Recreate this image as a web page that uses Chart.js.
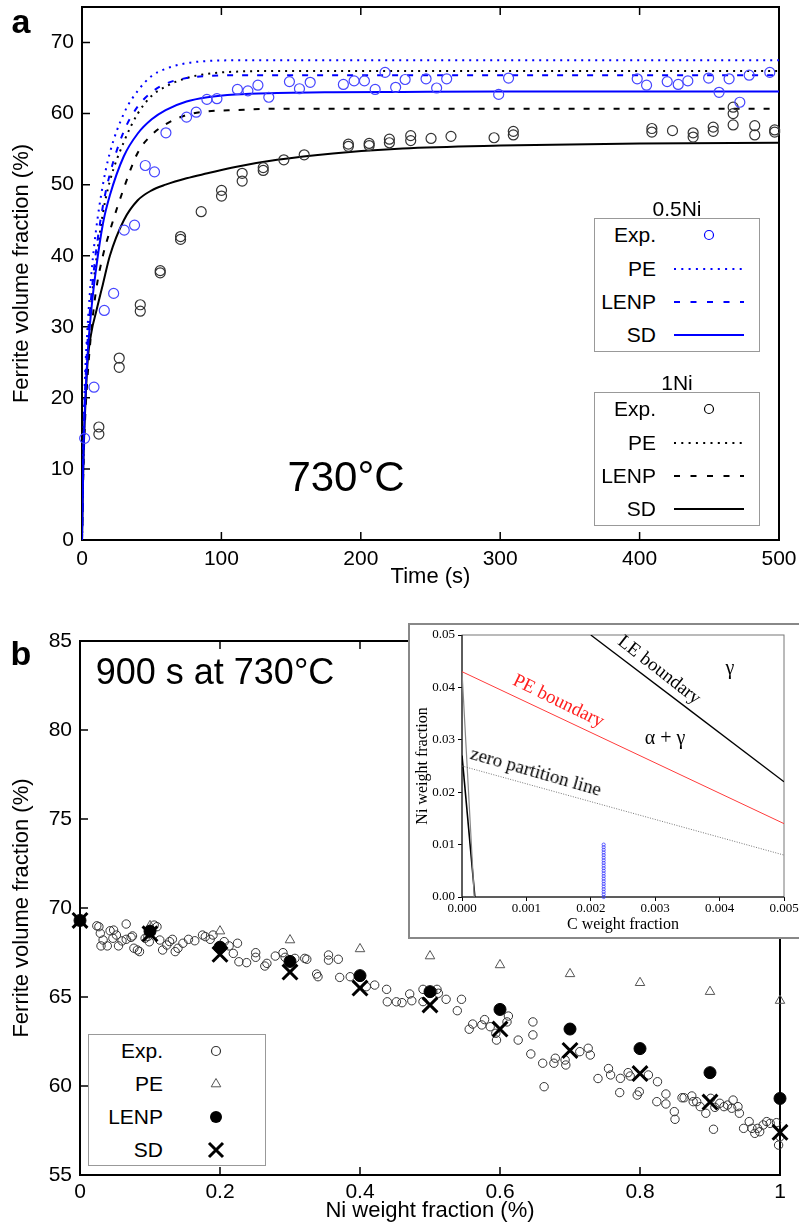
<!DOCTYPE html>
<html>
<head>
<meta charset="utf-8">
<script src="https://cdn.jsdelivr.net/npm/chart.js@4.4.0/dist/chart.umd.min.js"></script>
<style>
  html, body { margin: 0; padding: 0; background: #fff; }
  body { width: 799px; height: 1226px; position: relative; overflow: hidden;
         font-family: "Liberation Sans", Arial, sans-serif; color: #000; }
  canvas { position: absolute; }
  .txt { position: absolute; white-space: nowrap; line-height: 1; transform: translate(-50%, -50%); z-index: 5; }
  .serif { font-family: "Liberation Serif", "Times New Roman", serif; }
  .legend { position: absolute; border: 1px solid #999; background: #fff; box-sizing: border-box; z-index: 4; }
  .legend .lab { position: absolute; font-size: 21px; line-height: 24px; height: 24px; margin-top: -12px; text-align: right; white-space: nowrap; }
  #inset { position: absolute; left: 408px; top: 623px; width: 400px; height: 316px;
           border: 2px solid #888; box-sizing: border-box; background: #fff; z-index: 3; }
</style>
</head>
<body>
<canvas id="kinetics" width="799" height="600" style="left:0;top:0"></canvas>
<canvas id="nickel" width="799" height="626" style="left:0;top:600px"></canvas>
<div id="inset"><canvas id="phase" width="389" height="312" style="left:0;top:0"></canvas></div>

<div class="txt" style="left:21px;top:21px;font-size:34px;font-weight:bold">a</div>
<div class="txt" style="left:21px;top:653px;font-size:34px;font-weight:bold">b</div>
<div class="txt" style="left:346px;top:477px;font-size:42px">730°C</div>
<div class="txt" style="left:215px;top:672px;font-size:36px">900 s at 730°C</div>
<div class="txt" style="left:677px;top:208px;font-size:21px">0.5Ni</div>
<div class="txt" style="left:677px;top:382px;font-size:21px">1Ni</div>

<div class="txt serif" style="left:660px;top:669px;font-size:19px;transform:translate(-50%,-50%) rotate(38deg)">LE boundary</div>
<div class="txt serif" style="left:730px;top:667px;font-size:20px">γ</div>
<div class="txt serif" style="left:559px;top:700px;font-size:19px;color:#ff2020;transform:translate(-50%,-50%) rotate(26deg)">PE boundary</div>
<div class="txt serif" style="left:665px;top:737px;font-size:20px">α + γ</div>
<div class="txt serif" style="left:536px;top:771px;font-size:19px;transform:translate(-50%,-50%) rotate(16deg)">zero partition line</div>

<script>
// ---- panel a : ferrite fraction vs time at 730 C ----
const timeGrid = [0, 1, 2, 4, 7, 10, 15, 20, 30, 40, 50, 60, 75, 90, 110, 140, 180, 230, 300, 400, 500];
const pe05   = [0, 14, 22, 30, 38, 43.5, 50, 54.5, 60, 63.2, 65.3, 66.3, 67.1, 67.4, 67.5, 67.5, 67.5, 67.5, 67.5, 67.5, 67.5];
const lenp05 = [0, 13, 20, 28, 35, 40.5, 47, 51.5, 57.5, 61, 63, 64.2, 65, 65.3, 65.4, 65.4, 65.4, 65.4, 65.4, 65.4, 65.4];
const sd05   = [0, 12, 18, 26, 33, 38, 44.5, 48.5, 54, 57.2, 59.2, 60.5, 61.7, 62.3, 62.7, 62.9, 63.0, 63.05, 63.1, 63.1, 63.1];
const pe1    = [0, 12, 19, 27, 34, 39, 46, 50.5, 56, 60, 62.5, 63.8, 65, 65.6, 65.9, 66, 66, 66, 66, 66, 66];
const lenp1  = [0, 10, 16, 23, 30, 35, 40, 43.5, 49.5, 54.5, 57, 58.5, 59.8, 60.3, 60.5, 60.7, 60.7, 60.7, 60.7, 60.7, 60.7];
const sd1    = [0, 11, 17, 25, 29.5, 32, 36, 40, 45, 47.8, 49.2, 50, 50.9, 51.6, 52.5, 53.5, 54.4, 55.1, 55.5, 55.8, 55.9];

const exp05Time = [1.9, 8.6, 16, 22.7, 30.3, 37.7, 45.4, 52, 60.2, 75, 81.9, 89.6, 96.8, 111.5, 119, 126.2, 134, 148.8, 156, 163.7,
                   187.5, 195.2, 202.6, 210.3, 217.4, 225, 231.8, 246.8, 254.4, 261.6, 298.9, 306, 398.3, 405, 419.8, 427.7,
                   434.6, 449.5, 457, 464.2, 471.9, 478.6, 493.4];
const exp05Frac = [14.3, 21.5, 32.3, 34.7, 43.6, 44.3, 52.7, 51.8, 57.3, 59.5, 60.2, 62.0, 62.1, 63.4, 63.2, 64.0, 62.3, 64.5, 63.5, 64.4,
                   64.1, 64.6, 64.6, 63.4, 65.8, 63.7, 64.8, 64.9, 63.6, 64.9, 62.7, 65.0, 64.9, 64.0, 64.5, 64.1,
                   64.6, 65.0, 63.0, 64.9, 61.6, 65.4, 65.8];
const exp1Time = [12.1, 12.1, 26.7, 26.7, 41.8, 41.8, 56.1, 56.1, 70.7, 70.7, 85.5, 100.1, 100.1, 114.9, 114.9, 130, 130, 144.8, 159.4,
                  191.1, 191.1, 206, 206, 220.5, 220.5, 235.8, 235.8, 250.4, 264.7, 295.6, 309.4, 309.4, 408.8, 408.8, 423.6,
                  438.4, 438.4, 452.8, 452.8, 467.1, 467.1, 467.1, 482.6, 482.6, 496.9, 496.9];
const exp1Frac = [15.9, 14.9, 25.6, 24.3, 33.1, 32.2, 37.9, 37.6, 42.7, 42.3, 46.2, 49.2, 48.4, 51.6, 50.5, 52.4, 52.0, 53.5, 54.2,
                  55.7, 55.4, 55.8, 55.5, 56.4, 55.9, 56.9, 56.2, 56.5, 56.8, 56.6, 57.5, 57.0, 57.9, 57.4, 57.6,
                  57.3, 56.7, 58.1, 57.5, 60.9, 60.0, 58.4, 58.3, 57.0, 57.7, 57.4];

// ---- panel b : ferrite fraction vs Ni after 900 s ----
const niModel  = [0, 0.1, 0.2, 0.3, 0.4, 0.5, 0.6, 0.7, 0.8, 0.9, 1.0];
const peVals   = [69.3, 69.0, 68.7, 68.2, 67.7, 67.3, 66.8, 66.3, 65.8, 65.3, 64.8];
const lenpVals = [69.3, 68.7, 67.8, 67.0, 66.2, 65.3, 64.3, 63.2, 62.1, 60.75, 59.3];
const sdVals   = [69.3, 68.55, 67.4, 66.4, 65.5, 64.55, 63.2, 62.0, 60.7, 59.1, 57.4];

const niExp = [0.024, 0.027, 0.029, 0.030, 0.033, 0.039, 0.043, 0.047, 0.048, 0.052, 0.055, 0.060, 0.066, 0.066, 0.073, 0.075,
  0.077, 0.082, 0.085, 0.093, 0.097, 0.099, 0.106, 0.110, 0.114, 0.118, 0.124, 0.128, 0.132, 0.136, 0.140, 0.147, 0.155,
  0.164, 0.175, 0.179, 0.186, 0.190, 0.206, 0.213, 0.219, 0.225, 0.227, 0.238, 0.251, 0.251, 0.264, 0.267, 0.279, 0.290,
  0.293, 0.307, 0.321, 0.324, 0.338, 0.340, 0.355, 0.355, 0.369, 0.371, 0.386, 0.409, 0.421, 0.438, 0.439, 0.452, 0.46,
  0.471, 0.474, 0.49, 0.49, 0.504, 0.51, 0.512, 0.523, 0.539, 0.545, 0.556, 0.561, 0.574, 0.578, 0.586, 0.594, 0.595,
  0.61, 0.612, 0.626, 0.644, 0.647, 0.647, 0.661, 0.663, 0.677, 0.679, 0.693, 0.694, 0.714, 0.726, 0.729, 0.74, 0.755,
  0.758, 0.771, 0.772, 0.783, 0.786, 0.796, 0.799, 0.812, 0.824, 0.825, 0.837, 0.837, 0.849, 0.85, 0.86, 0.863, 0.874,
  0.876, 0.881, 0.886, 0.894, 0.901, 0.905, 0.907, 0.914, 0.92, 0.925, 0.931, 0.933, 0.94, 0.942, 0.948, 0.956, 0.96,
  0.964, 0.968, 0.971, 0.976, 0.981, 0.986, 0.995, 0.998, 1.0];
const vfExp = [69.0, 68.95, 68.58, 67.87, 68.2, 67.87, 68.72, 68.3, 68.76, 68.48, 67.87, 68.15, 69.1, 68.24, 68.35, 68.43,
  67.74, 67.64, 67.55, 68.3, 68.4, 68.1, 69.04, 68.95, 68.2, 67.64, 67.92, 68.11, 68.24, 67.55, 67.74, 68.02, 68.24,
  68.16, 68.48, 68.39, 68.24, 68.48, 68.11, 67.87, 67.45, 68.02, 66.98, 66.93, 67.49, 67.23, 66.74, 66.89, 67.3, 67.49,
  67.23, 67.17, 67.17, 67.12, 66.29, 66.14, 67.36, 67.07, 67.12, 66.1, 66.14, 65.58, 65.67, 65.43, 64.73, 64.73, 64.68,
  65.17, 64.79, 65.43, 64.74, 65.3, 65.43, 65.21, 64.87, 64.23, 64.87, 63.19, 63.48, 63.43, 63.73, 63.33, 62.96, 62.58,
  63.6, 63.93, 62.58, 61.8, 63.6, 62.87, 61.28, 59.96, 61.28, 61.56, 61.46, 61.18, 61.93, 62.12, 61.74, 60.42, 60.98,
  60.62, 59.63, 60.43, 60.75, 60.56, 59.49, 59.68, 60.62, 59.12, 60.24, 59.55, 58.99, 58.56, 58.13, 59.34, 59.34, 59.44,
  59.12, 59.12, 58.84, 58.47, 59.31, 57.57, 58.8, 59.03, 58.84, 58.93, 58.75, 59.21, 58.84, 58.47, 57.62, 58.0, 57.62,
  57.34, 57.62, 57.43, 57.81, 58.0, 57.9, 57.94, 56.68, 57.15];

// ---- inset : Fe-C-Ni section ----
const leC = [0.002, 0.005],  leNi = [0.05, 0.022];
const peC = [0, 0.005],      peNi = [0.043, 0.014];
const zpC = [0, 0.005],      zpNi = [0.025, 0.008];
const alphaGrayC = [0, 0.00019], alphaGrayNi = [0.043, 0];
const alphaBlackC = [0, 0.0002], alphaBlackNi = [0.027, 0];
const alloyC  = [0.0022, 0.0022, 0.0022, 0.0022, 0.0022, 0.0022, 0.0022, 0.0022, 0.0022, 0.0022, 0.0022,
                 0.0022, 0.0022, 0.0022, 0.0022, 0.0022, 0.0022, 0.0022, 0.0022, 0.0022, 0.0022];
const alloyNi = [0, 0.0005, 0.001, 0.0015, 0.002, 0.0025, 0.003, 0.0035, 0.004, 0.0045, 0.005,
                 0.0055, 0.006, 0.0065, 0.007, 0.0075, 0.008, 0.0085, 0.009, 0.0095, 0.01];

const legendLabels = ['Exp.', 'PE', 'LENP', 'SD'];

Chart.defaults.font.family = '"Liberation Sans", Arial, sans-serif';
Chart.defaults.color = '#000';
Chart.defaults.animation = false;
Chart.defaults.plugins.legend.display = false;
Chart.defaults.plugins.tooltip.enabled = false;

function pts(xs, ys) {
  return xs.map((x, i) => ({ x: x, y: ys[i] }));
}

function curve(xs, ys, color, dash, width) {
  return {
    data: pts(xs, ys), showLine: true, borderColor: color, borderWidth: width || 2,
    borderDash: dash || [], pointRadius: 0, cubicInterpolationMode: 'monotone', fill: false
  };
}

function marks(xs, ys, style, color, radius, width, filled) {
  return {
    data: pts(xs, ys), showLine: false, pointStyle: style, pointRadius: radius,
    pointBorderColor: color, pointBackgroundColor: filled ? color : 'rgba(0,0,0,0)',
    pointBorderWidth: width, clip: false
  };
}

// frame round the plot area with inward ticks
const boxFrame = {
  id: 'boxFrame',
  beforeDatasetsDraw(chart, args, opts) {
    const { ctx, chartArea: a } = chart;
    const xs = chart.scales.x, ys = chart.scales.y;
    ctx.save();
    ctx.strokeStyle = opts.color;
    ctx.lineWidth = opts.width;
    ctx.strokeRect(a.left, a.top, a.right - a.left, a.bottom - a.top);
    if (opts.axisColor) {
      ctx.strokeStyle = opts.axisColor;
      ctx.beginPath();
      ctx.moveTo(a.left, a.top);
      ctx.lineTo(a.left, a.bottom);
      ctx.lineTo(a.right, a.bottom);
      ctx.stroke();
    }
    if (opts.tick) {
      ctx.strokeStyle = opts.color;
      ctx.lineWidth = 1.5;
      ctx.beginPath();
      xs.ticks.forEach(t => {
        const p = xs.getPixelForValue(t.value);
        ctx.moveTo(p, a.bottom); ctx.lineTo(p, a.bottom - opts.tick);
        ctx.moveTo(p, a.top); ctx.lineTo(p, a.top + opts.tick);
      });
      ys.ticks.forEach(t => {
        const p = ys.getPixelForValue(t.value);
        ctx.moveTo(a.left, p); ctx.lineTo(a.left + opts.tick, p);
      });
      ctx.stroke();
    }
    ctx.restore();
  }
};

function xAxis(min, max, step, title, height, tickPad, titlePad) {
  return {
    type: 'linear', min: min, max: max,
    ticks: { stepSize: step, padding: tickPad, font: { size: 21 }, callback: v => String(Math.round(v * 10) / 10) },
    grid: { display: false, drawTicks: false }, border: { display: false },
    title: { display: true, text: title, font: { size: 22 }, padding: { top: 0, bottom: titlePad } },
    afterFit(s) { s.height = height; s.paddingLeft = 0; s.paddingRight = 0; }
  };
}

function yAxis(min, max, step, title, width, tickPad) {
  return {
    type: 'linear', min: min, max: max,
    ticks: { stepSize: step, padding: tickPad, font: { size: 21 }, includeBounds: false },
    grid: { display: false, drawTicks: false }, border: { display: false },
    title: { display: true, text: title, font: { size: 22 }, padding: { top: 9, bottom: 0 } },
    afterFit(s) { s.width = width; s.paddingTop = 0; s.paddingBottom = 0; }
  };
}

new Chart(document.getElementById('kinetics'), {
  type: 'scatter',
  data: {
    datasets: [
      marks(exp05Time, exp05Frac, 'circle', '#4646ff', 5, 1.2),
      marks(exp1Time, exp1Frac, 'circle', '#333333', 5, 1.2),
      curve(timeGrid, sd05, '#0000ff'),
      curve(timeGrid, lenp05, '#0000ff', [6, 9]),
      curve(timeGrid, pe05, '#0000ff', [2, 5]),
      curve(timeGrid, sd1, '#000000'),
      curve(timeGrid, lenp1, '#000000', [6, 9]),
      curve(timeGrid, pe1, '#000000', [2, 5])
    ]
  },
  options: {
    responsive: false,
    layout: { padding: { top: 7, right: 20, left: 0, bottom: 0 } },
    scales: {
      x: xAxis(0, 500, 100, 'Time (s)', 60, 7, 10),
      y: yAxis(0, 75, 10, 'Ferrite volume fraction (%)', 82, 8)
    },
    plugins: { boxFrame: { color: '#000', width: 2, tick: 8 } }
  },
  plugins: [boxFrame]
});

new Chart(document.getElementById('nickel'), {
  type: 'scatter',
  data: {
    datasets: [
      marks(niModel, sdVals, 'crossRot', '#000', 10.5, 3),
      marks(niModel, lenpVals, 'circle', '#000', 6, 1, true),
      marks(niModel, peVals, 'triangle', '#555', 5.5, 1),
      marks(niExp, vfExp, 'circle', '#333', 4.2, 1)
    ]
  },
  options: {
    responsive: false,
    layout: { padding: { top: 41, right: 19, left: 0, bottom: 0 } },
    scales: {
      x: xAxis(0, 1, 0.2, 'Ni weight fraction (%)', 51, 5, 2),
      y: yAxis(55, 85, 5, 'Ferrite volume fraction (%)', 80, 8)
    },
    plugins: { boxFrame: { color: '#000', width: 2, tick: 8 } }
  },
  plugins: [boxFrame]
});

const serif = '"Liberation Serif", "Times New Roman", serif';
const insetGrid = { display: true, drawOnChartArea: false, drawTicks: true, tickLength: 4, color: '#000', lineWidth: 1 };

new Chart(document.getElementById('phase'), {
  type: 'scatter',
  data: {
    datasets: [
      marks(alloyC, alloyNi, 'circle', '#3a3aff', 1.6, 0.8),
      curve(leC, leNi, '#000', [], 1.3),
      curve(peC, peNi, '#ff3b3b', [], 1),
      curve(zpC, zpNi, '#666', [1, 1.5], 0.9),
      curve(alphaGrayC, alphaGrayNi, '#888', [], 1.2),
      curve(alphaBlackC, alphaBlackNi, '#000', [], 1.6)
    ]
  },
  options: {
    responsive: false,
    layout: { padding: { top: 10, right: 15, left: 0, bottom: 0 } },
    scales: {
      x: {
        type: 'linear', min: 0, max: 0.005,
        ticks: { stepSize: 0.001, padding: 0, font: { size: 13, family: serif }, callback: v => v.toFixed(3) },
        grid: insetGrid, border: { display: false },
        title: { display: true, text: 'C weight fraction', font: { size: 16, family: serif }, padding: { top: 0, bottom: 3 } },
        afterFit(s) { s.height = 40; s.paddingLeft = 0; s.paddingRight = 0; }
      },
      y: {
        type: 'linear', min: 0, max: 0.05,
        ticks: { stepSize: 0.01, padding: 3, font: { size: 13, family: serif }, callback: v => v.toFixed(2) },
        grid: insetGrid, border: { display: false },
        title: { display: true, text: 'Ni weight fraction', font: { size: 16, family: serif }, padding: { top: 3, bottom: 0 } },
        afterFit(s) { s.width = 52; s.paddingTop = 0; s.paddingBottom = 0; }
      }
    },
    plugins: { boxFrame: { color: '#777', axisColor: '#000', width: 1, tick: 0 } }
  },
  plugins: [boxFrame]
});

// legends drawn as html boxes
function addLegend(cfg) {
  const box = document.createElement('div');
  box.className = 'legend';
  box.style.cssText = 'left:' + cfg.left + 'px;top:' + cfg.top + 'px;width:' + cfg.width + 'px;height:' + cfg.height + 'px';
  let svg = '<svg width="' + cfg.width + '" height="' + cfg.height + '" style="position:absolute;left:0;top:0">';
  cfg.kinds.forEach((k, i) => {
    const y = cfg.rowY[i], cx = cfg.markX, c = cfg.color, x0 = cfg.lineX[0], x1 = cfg.lineX[1];
    if (k === 'circle') svg += '<circle cx="' + cx + '" cy="' + y + '" r="4.5" fill="none" stroke="' + c + '" stroke-width="1.2"/>';
    if (k === 'dot') svg += '<line x1="' + x0 + '" y1="' + y + '" x2="' + x1 + '" y2="' + y + '" stroke="' + c + '" stroke-width="2" stroke-dasharray="2 5.3"/>';
    if (k === 'dash') svg += '<line x1="' + x0 + '" y1="' + y + '" x2="' + x1 + '" y2="' + y + '" stroke="' + c + '" stroke-width="2" stroke-dasharray="6 10.5"/>';
    if (k === 'solid') svg += '<line x1="' + x0 + '" y1="' + y + '" x2="' + x1 + '" y2="' + y + '" stroke="' + c + '" stroke-width="2"/>';
    if (k === 'tri') svg += '<polygon points="' + cx + ',' + (y - 5.5) + ' ' + (cx + 4.8) + ',' + (y + 2.8) + ' ' + (cx - 4.8) + ',' + (y + 2.8) + '" fill="none" stroke="#555" stroke-width="1"/>';
    if (k === 'fill') svg += '<circle cx="' + cx + '" cy="' + y + '" r="6" fill="#000"/>';
    if (k === 'cross') svg += '<path d="M' + (cx - 7) + ' ' + (y - 7) + 'L' + (cx + 7) + ' ' + (y + 7) + 'M' + (cx + 7) + ' ' + (y - 7) + 'L' + (cx - 7) + ' ' + (y + 7) + '" stroke="#000" stroke-width="3"/>';
  });
  svg += '</svg>';
  box.innerHTML = svg;
  legendLabels.forEach((t, i) => {
    const lab = document.createElement('div');
    lab.className = 'lab';
    lab.textContent = t;
    lab.style.top = cfg.rowY[i] + 'px';
    lab.style.right = (cfg.width - cfg.labelRight) + 'px';
    box.appendChild(lab);
  });
  document.body.appendChild(box);
}

addLegend({ left: 594, top: 218, width: 166, height: 134, rowY: [16, 50, 83, 116], labelRight: 63, markX: 114,
            lineX: [79, 149], color: '#0000ff', kinds: ['circle', 'dot', 'dash', 'solid'] });
addLegend({ left: 594, top: 392, width: 166, height: 134, rowY: [16, 50, 83, 116], labelRight: 63, markX: 114,
            lineX: [79, 149], color: '#000', kinds: ['circle', 'dot', 'dash', 'solid'] });
addLegend({ left: 88, top: 1034, width: 178, height: 132, rowY: [16, 49, 82, 115], labelRight: 76, markX: 127,
            lineX: [0, 0], color: '#333', kinds: ['circle', 'tri', 'fill', 'cross'] });
</script>
</body>
</html>
